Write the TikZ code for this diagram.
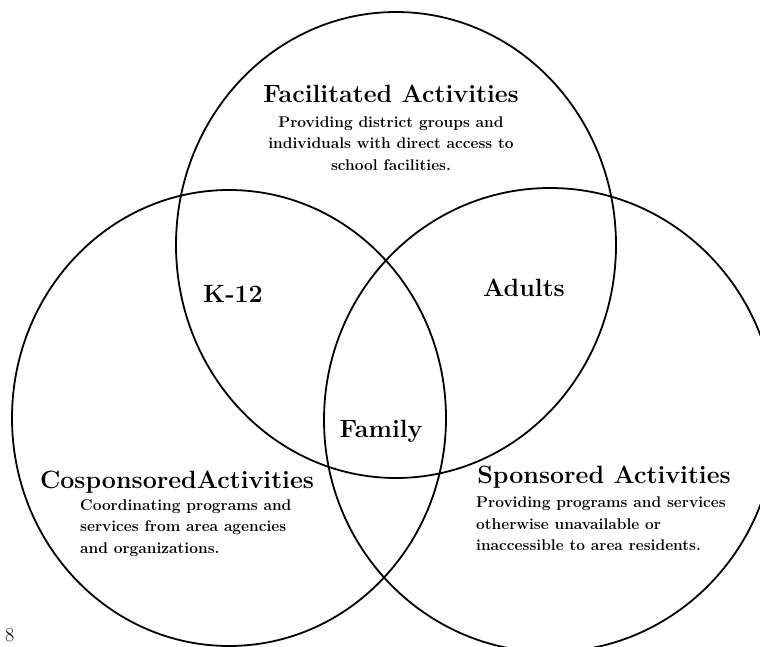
\documentclass[tikz,border=0pt]{standalone}
\usetikzlibrary{positioning}
\tikzset{
  ring/.style={line width=1.8pt},
  head/.style={font=\fontsize{25}{28}\selectfont\bfseries, inner sep=0pt},
  zone/.style={font=\fontsize{25}{28}\selectfont\bfseries, inner sep=0pt, anchor=base},
  blurb/.style={font=\fontsize{15.5}{21.5}\selectfont\bfseries, inner sep=0pt}
}
\begin{document}
\begin{tikzpicture}[x=1pt,y=1pt]
\useasboundingbox (0,0) rectangle (760,646);
\clip (0,0) rectangle (760,646);
% circle centres
\coordinate (cfac) at (396,401);
\coordinate (ccos) at (229,228);
\coordinate (cspo) at (550,226);
\draw[ring] (cfac) ellipse [x radius=220pt, y radius=233pt];
\draw[ring] (ccos) ellipse [x radius=217pt, y radius=228pt];
\draw[ring] (cspo) ellipse [x radius=226pt, y radius=232pt];
% top circle
\node[head, anchor=base] (fac) at (391,543) {Facilitated Activities};
\node[blurb, align=center, below=13pt of fac] (facx) {Providing district groups and\\
  individuals with direct access to\\ school facilities.};
% overlaps
\node[zone] (kids) at (233,343) {K-12};
\node[zone] (adults) at (524,349) {Adults};
\node[zone] (family) at (381,209) {Family};
% left circle
\node[head, anchor=base] (cos) at (177,158) {CosponsoredActivities};
\node[blurb, align=left, anchor=north west] (cosx) at (80,147) {Coordinating programs and\\
  services from area agencies\\ and organizations.};
% right circle
\node[head, anchor=base] (spo) at (604,163) {Sponsored Activities};
\node[blurb, align=left, anchor=north west] (spox) at (476,149) {Providing programs and services\\
  otherwise unavailable or\\ inaccessible to area residents.};
% page number
\node[font=\fontsize{20}{22}\selectfont, inner sep=0pt, anchor=base west] (pg) at (5,5) {8};
\end{tikzpicture}
\end{document}
